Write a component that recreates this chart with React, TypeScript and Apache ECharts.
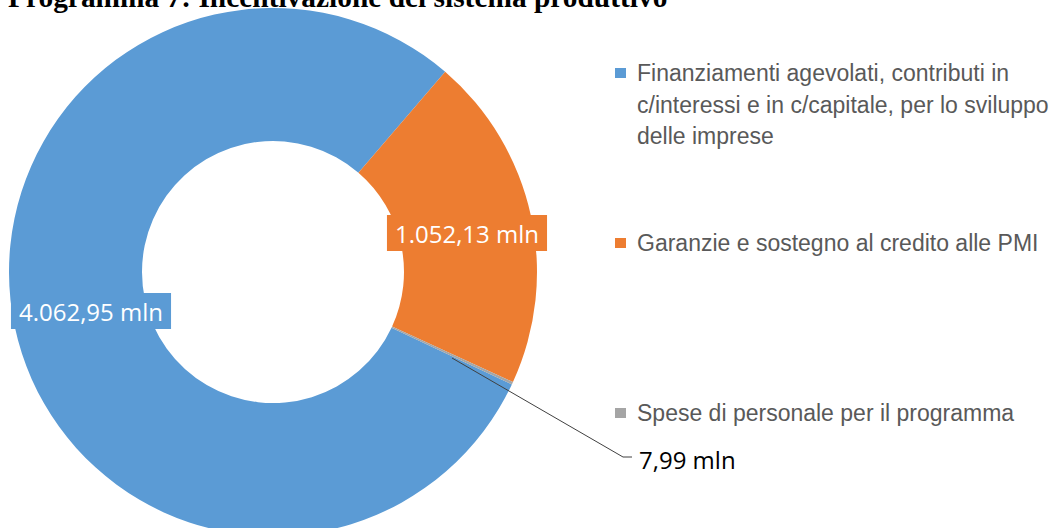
import React, { useEffect, useRef } from "react";
import * as echarts from "echarts";

const titleText = "Programma 7: Incentivazione del sistema produttivo";
const categories = [
  "Finanziamenti agevolati, contributi in c/interessi e in c/capitale, per lo sviluppo delle imprese",
  "Garanzie e sostegno al credito alle PMI",
  "Spese di personale per il programma",
];
const legendLabels = [
  "\n\nFinanziamenti agevolati, contributi in\nc/interessi e in c/capitale, per lo sviluppo\ndelle imprese",
  "Garanzie e sostegno al credito alle PMI",
  "Spese di personale per il programma",
];
const values = [4062.95, 1052.13, 7.99];
const colors = ["#5B9BD5", "#ED7D31", "#A5A5A5"];

function formatIt(v: number): string {
  const [intPart, dec] = v.toFixed(2).split(".");
  const grouped = intPart.replace(/\B(?=(\d{3})+(?!\d))/g, ".");
  return grouped + "," + dec + " mln";
}

// label placement (layout only)
const labelSpots = [
  { x: 91, y: 311, align: "center" },
  { x: 467, y: 233, align: "center" },
  { x: 639, y: 459, align: "left" },
];
const leaderLine = [
  [452, 358],
  [623, 457],
  [632, 457],
];

export default function App() {
  const ref = useRef<HTMLDivElement>(null);
  useEffect(() => {
    if (!ref.current) return;
    const chart = echarts.init(ref.current, null, { renderer: "svg" });
    const legendText = {
      color: "#595959",
      fontSize: 23,
      fontFamily: "Liberation Sans",
      lineHeight: 31.5,
    };
    const mkLegend = (i: number, top: number) => ({
      data: [categories[i]],
      left: 615,
      top,
      orient: "vertical",
      padding: 0,
      icon: "rect",
      itemWidth: 11,
      itemHeight: 10,
      selectedMode: false,
      formatter: (name: string) => legendLabels[categories.indexOf(name)],
      textStyle: { ...legendText, padding: [0, 0, 0, 6] },
    });
    const pieGeom = {
      type: "pie",
      center: [273, 272],
      radius: [131, 264],
      startAngle: -25.2,
      clockwise: true,
      avoidLabelOverlap: false,
      emphasis: { disabled: true },
    };
    const layoutFn = (params: any) => {
      const s = labelSpots[params.dataIndex];
      const res: any = {
        x: s.x,
        y: s.y,
        align: s.align,
        verticalAlign: "middle",
      };
      if (params.dataIndex === 2) res.labelLinePoints = leaderLine;
      return res;
    };
    const labelFont = {
      fontFamily: "Open Sans",
      fontSize: 24,
      formatter: (p: any) => formatIt(p.value),
    };
    chart.setOption({
      animation: false,
      color: colors,
      title: {
        text: titleText,
        left: 8,
        top: -18,
        padding: 0,
        textStyle: {
          fontFamily: "Liberation Serif",
          fontWeight: "bold",
          fontSize: 29.4,
          color: "#000",
        },
      },
      legend: [mkLegend(0, -5.75), mkLegend(1, 227.25), mkLegend(2, 397.25)],
      series: [
        {
          ...pieGeom,
          z: 2,
          itemStyle: { borderWidth: 0 },
          labelLine: { show: false },
          data: categories.map((name, i) => ({
            name,
            value: values[i],
            label:
              i < 2
                ? {
                    show: true,
                    position: "inside",
                    color: "#fff",
                    backgroundColor: colors[i],
                    padding: [6, 8],
                  }
                : { show: false },
          })),
          label: labelFont,
          labelLayout: layoutFn,
        },
        {
          ...pieGeom,
          z: 5,
          silent: true,
          legendHoverLink: false,
          itemStyle: { color: "rgba(0,0,0,0)", borderWidth: 0 },
          labelLine: {
            show: true,
            lineStyle: { color: "#404040", width: 1, opacity: 1 },
          },
          data: categories.map((name, i) => ({
            name,
            value: values[i],
            label:
              i === 2
                ? { show: true, position: "outside", color: "#000" }
                : { show: false },
            labelLine: { show: i === 2 },
          })),
          label: labelFont,
          labelLayout: layoutFn,
        },
      ],
    });
    return () => chart.dispose();
  }, []);
  return (
    <div
      ref={ref}
      style={{ position: "fixed", left: 0, top: 0, width: 1051, height: 528, background: "#fff" }}
    />
  );
}
